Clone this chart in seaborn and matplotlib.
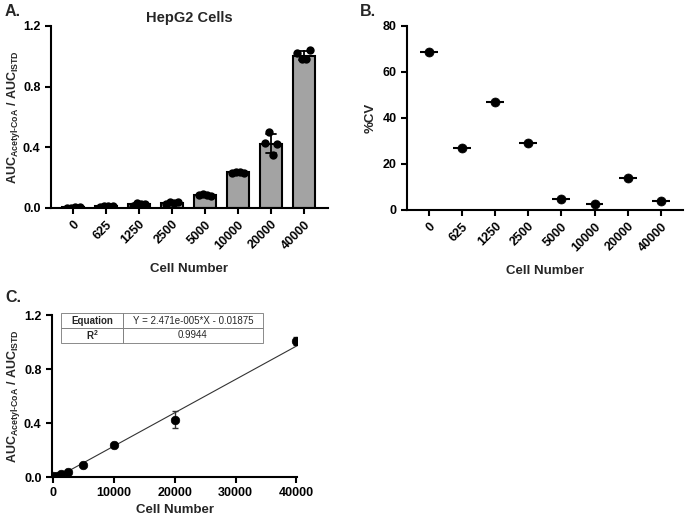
import numpy as np
import pandas as pd
import matplotlib
matplotlib.use("Agg")
import matplotlib.pyplot as plt
import seaborn as sns

sns.set_style("ticks")
plt.rcParams['font.family'] = ['Liberation Sans', 'DejaVu Sans']
plt.rcParams['font.weight'] = 'bold'
plt.rcParams['mathtext.fontset'] = 'custom'
plt.rcParams['mathtext.rm'] = 'Liberation Sans:bold'
plt.rcParams['mathtext.default'] = 'rm'

# ---------------- data ----------------
cell_labels = ["0", "625", "1250", "2500", "5000", "10000", "20000", "40000"]
cell_numbers = [0, 625, 1250, 2500, 5000, 10000, 20000, 40000]
rep1 = [0.000, 0.008, 0.015, 0.025, 0.085, 0.230, 0.430, 1.020]
rep2 = [0.003, 0.010, 0.030, 0.040, 0.090, 0.240, 0.500, 0.980]
rep3 = [0.005, 0.012, 0.028, 0.035, 0.088, 0.235, 0.350, 0.980]
rep4 = [0.008, 0.011, 0.025, 0.038, 0.082, 0.232, 0.420, 1.040]
cv_percent = [68.5, 26.8, 46.8, 29.3, 5.0, 2.4, 14.0, 3.7]
slope = 2.471e-05
intercept = -0.01875
r_squared = 0.9944

reps = [rep1, rep2, rep3, rep4]
df = pd.DataFrame({
    "cells": [lab for r in reps for lab in cell_labels],
    "value": [v for r in reps for v in r],
    "rep": [f"r{i}" for i, r in enumerate(reps) for _ in cell_labels],
})
arr = np.array(reps)
means = arr.mean(axis=0)
sds = arr.std(axis=0, ddof=1)

fig = plt.figure(figsize=(6.85, 5.17), dpi=100)
W, H = 685, 517
def box(l, r, t, b):
    return [l / W, 1 - b / H, (r - l) / W, (b - t) / H]

axA = fig.add_axes(box(51, 328, 26, 208))
axB = fig.add_axes(box(407, 683, 26, 210))
axC = fig.add_axes(box(52, 297, 315, 477))

tick_fs = 9
lab_fs = 9.5

def style(ax):
    for s in ["top", "right"]:
        ax.spines[s].set_visible(False)
    for s in ["left", "bottom"]:
        ax.spines[s].set_linewidth(1.5)
        ax.spines[s].set_color("black")
    ax.tick_params(width=1.5, length=4, labelsize=tick_fs, colors="black")
    for t in ax.get_xticklabels() + ax.get_yticklabels():
        t.set_fontweight("bold")

ylab = r"AUC$_{\mathregular{Acetyl\text{-}CoA}}$ / AUC$_{\mathregular{ISTD}}$"

# ---------------- Panel A ----------------
sns.barplot(data=df, x="cells", y="value", order=cell_labels, ax=axA,
            color="#a3a3a3", edgecolor="black", linewidth=1.5, width=0.65,
            errorbar="sd", capsize=0.3, err_kws={"color": "black", "linewidth": 1.3, "zorder": 5},
            saturation=1)
n_before = len(axA.collections)
sns.stripplot(data=df, x="cells", y="value", hue="rep", order=cell_labels, ax=axA,
              dodge=True, jitter=False, palette=["black"] * 4, size=6,
              legend=False, zorder=4)
# tighten the dodge spread so the replicate points overlap like a compact swarm
for coll in axA.collections[n_before:]:
    off = coll.get_offsets()
    if len(off):
        off = np.asarray(off, dtype=float)
        c = np.round(off[:, 0])
        off[:, 0] = c + (off[:, 0] - c) * 0.65
        coll.set_offsets(off)
axA.set_xlim(-0.67, 7.73)
axA.set_ylim(0, 1.2)
axA.set_yticks([0.0, 0.4, 0.8, 1.2])
axA.set_yticklabels(["0.0", "0.4", "0.8", "1.2"])
axA.set_xlabel("Cell Number", fontsize=lab_fs, fontweight="bold", labelpad=8)
axA.set_ylabel(ylab, fontsize=9, fontweight="bold", va="center")
axA.yaxis.set_label_coords((14 - 51) / 277, 0.5)
axA.set_title("HepG2 Cells", fontsize=10.5, fontweight="bold", pad=3)
style(axA)
plt.setp(axA.get_xticklabels(), rotation=45, ha="right", rotation_mode="anchor")

# ---------------- Panel B ----------------
xpos = np.arange(len(cell_labels))
axB.errorbar(xpos, cv_percent, xerr=0.27, fmt="none", ecolor="black",
             elinewidth=1.5, capsize=0)
sns.scatterplot(x=xpos, y=cv_percent, ax=axB, color="black", s=42, zorder=5, edgecolor="black")
axB.set_xticks(xpos)
axB.set_xticklabels(cell_labels)
axB.set_xlim(-0.66, 7.67)
axB.set_ylim(0, 80)
axB.set_yticks([0, 20, 40, 60, 80])
axB.set_xlabel("Cell Number", fontsize=lab_fs, fontweight="bold", labelpad=8)
axB.set_ylabel("%CV", fontsize=lab_fs, fontweight="bold")
style(axB)
plt.setp(axB.get_xticklabels(), rotation=45, ha="right", rotation_mode="anchor")

# ---------------- Panel C ----------------
xfit = np.array([0, cell_numbers[-1]])
axC.plot(xfit, slope * xfit + intercept, color="#333333", lw=0.8, zorder=2)
axC.errorbar(cell_numbers, means, yerr=sds, fmt="none", ecolor="#333333",
             elinewidth=1.0, capsize=2.5, zorder=3)
sns.scatterplot(x=cell_numbers, y=means, ax=axC, color="black", s=38,
                edgecolor="black", zorder=4)
axC.set_xlim(-150, 40100)
axC.set_ylim(0, 1.2)
axC.set_yticks([0.0, 0.4, 0.8, 1.2])
axC.set_yticklabels(["0.0", "0.4", "0.8", "1.2"])
axC.set_xticks([0, 10000, 20000, 30000, 40000])
axC.set_xlabel("Cell Number", fontsize=lab_fs, fontweight="bold", labelpad=3)
axC.set_ylabel(ylab, fontsize=9, fontweight="bold", va="center")
axC.yaxis.set_label_coords((14 - 52) / 245, 0.5)
style(axC)

# table
tb = axC.table(cellText=[["Equation", f"Y = {slope:.3e}*X - {abs(intercept)}".replace("e-05", "e-005")],
                         [r"R$^{2}$", f"{r_squared}"]],
               cellLoc="center",
               bbox=[(61 - 52) / 245, (477 - 343) / 162, (263 - 61) / 245, 30 / 162],
               colWidths=[62 / 202, 140 / 202])
tb.auto_set_font_size(False)
tb.set_fontsize(7)
for (r, c), cell in tb.get_celld().items():
    cell.set_linewidth(0.6)
    cell.set_edgecolor("#777777")
    t = cell.get_text()
    t.set_fontweight("bold" if c == 0 else "normal")

# panel letters
fig.text(5 / W, 1 - 12 / H, "A.", fontsize=11.5, fontweight="bold", va="center")
fig.text(360 / W, 1 - 12 / H, "B.", fontsize=11.5, fontweight="bold", va="center")
fig.text(5 / W, 1 - 297 / H, "C.", fontsize=11.5, fontweight="bold", va="center")

fig.savefig("out.png", dpi=100)
